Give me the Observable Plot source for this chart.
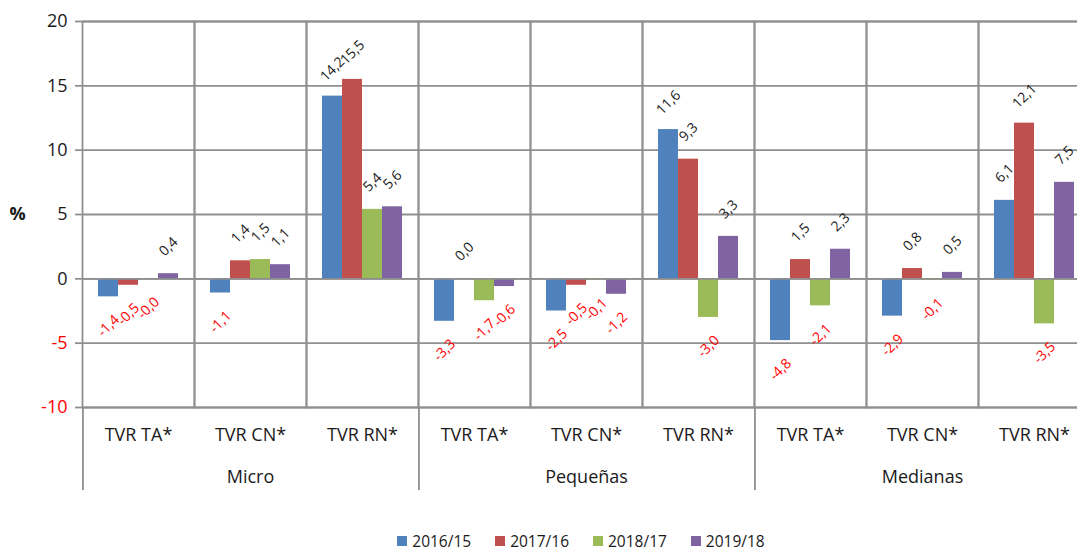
<!DOCTYPE html>
<html>
<head>
<meta charset="utf-8">
<script src="https://cdn.jsdelivr.net/npm/d3@7"></script>
<script src="https://cdn.jsdelivr.net/npm/@observablehq/plot@0.6"></script>
<style>
  html, body { margin: 0; padding: 0; background: #fff; overflow: hidden; }
  #chart { width: 1077px; overflow: hidden; }
  #chart svg { max-width: none !important; display: block; }
  #legend { display: flex; justify-content: center; align-items: center; box-sizing: border-box;
            width: 1090px; padding-left: 72px; height: 20px; margin-top: 11px;
            font-family: "Open Sans", sans-serif; font-size: 15.5px; color: #1a1a1a; }
  .item { display: flex; align-items: center; margin: 0 12px; }
  .sw { width: 10px; height: 10px; margin-right: 5px; }
</style>
</head>
<body>
<div id="chart"></div>
<script>
// ---- data ----
const groups = ["Micro", "Pequeñas", "Medianas"];
const categories = ["TVR TA*", "TVR CN*", "TVR RN*"];
const series = ["2016/15", "2017/16", "2018/17", "2019/18"];
const colors = ["#4F81BD", "#C0504D", "#9BBB59", "#8064A2"];
// values in order: Micro(TA, CN, RN), Pequeñas(TA, CN, RN), Medianas(TA, CN, RN)
const v2016_15 = [-1.4, -1.1, 14.2, -3.3, -2.5, 11.6, -4.8, -2.9, 6.1];
const v2017_16 = [-0.5, 1.4, 15.5, 0.02, -0.5, 9.3, 1.5, 0.8, 12.1];
const v2018_17 = [-0.02, 1.5, 5.4, -1.7, -0.1, -3.0, -2.1, -0.1, -3.5];
const v2019_18 = [0.4, 1.1, 5.6, -0.6, -1.2, 3.3, 2.3, 0.5, 7.5];
const yTicks = [-10, -5, 0, 5, 10, 15, 20];
const yDomain = [-10, 20];

// ---- build table ----
const seriesValues = [v2016_15, v2017_16, v2018_17, v2019_18];
const keyOf = (g, c) => g + "|" + c;
const keys = [];
const catRows = [];
groups.forEach(g => categories.forEach(c => { keys.push(keyOf(g, c)); catRows.push({key: keyOf(g, c), group: g, category: c}); }));
const rows = [];
catRows.forEach((cr, i) => series.forEach((s, j) => rows.push({...cr, series: s, value: seriesValues[j][i]})));
const fmt = v => v.toFixed(1).replace(".", ",");

const W = 1090, H = 520, ML = 82, MR = 0, MT = 21, MB = 113;
const padOuter = 0.76;
const facetW = (W - ML - MR) / keys.length;
const step = facetW / (series.length + 2 * padOuter);
const grid = "#8f8f8f";
const font = "'Open Sans', sans-serif";

const chart = Plot.plot({
  width: W, height: H,
  marginLeft: ML, marginRight: MR, marginTop: MT, marginBottom: MB,
  style: {fontFamily: font, fontSize: "18px", color: "#1a1a1a", background: "#fff"},
  fx: {domain: keys, padding: 0, axis: null},
  x: {domain: series, paddingInner: 0, paddingOuter: padOuter, axis: null},
  y: {domain: yDomain},
  color: {domain: series, range: colors},
  marks: [
    Plot.ruleY(yTicks, {stroke: grid, strokeWidth: 1.8}),
    Plot.frame({stroke: grid, strokeWidth: 1.8}),
    Plot.axisY(yTicks, {tickSize: 7, tickPadding: 8, stroke: grid, strokeWidth: 1.8,
      tickFormat: d => String(d),
      fill: d => d < 0 ? "#ff0000" : "#1a1a1a", fontSize: 18, label: null}),
    Plot.barY(rows, {fx: "key", x: "series", y: "value", fill: "series"}),
    Plot.ruleY([0], {stroke: grid, strokeWidth: 1.8}),
    Plot.text(rows, {filter: d => d.value >= 0, fx: "key", x: "series", y: "value",
      text: d => fmt(d.value), rotate: -45, dy: -27, fontSize: 14, fill: "#1a1a1a"}),
    Plot.text(rows, {filter: d => d.value < 0, fx: "key", x: "series", y: "value",
      text: d => fmt(d.value), rotate: -45, dy: 29, fontSize: 14, fill: "#ff0000"}),
    // category labels
    Plot.text(catRows, {fx: "key", text: "category", frameAnchor: "bottom", lineAnchor: "middle",
      dy: 28, fontSize: 18, fill: "#1a1a1a"}),
    // group labels
    Plot.text(groups, {fx: g => keyOf(g, categories[1]), text: g => g, frameAnchor: "bottom",
      lineAnchor: "middle", dy: 70, fontSize: 18, fill: "#1a1a1a"}),
    // group separators extending into the label area
    Plot.ruleX(groups, {fx: g => keyOf(g, categories[0]), x: () => series[0],
      dx: -(0.5 + padOuter) * step, y1: () => yDomain[0], y2: () => yDomain[0],
      insetBottom: -83, stroke: grid, strokeWidth: 1.8}),
    // axis title
    Plot.text(["%"], {fx: () => keys[0], text: d => d, frameAnchor: "left", textAnchor: "middle",
      dx: -65, fontSize: 18, fontWeight: "bold", fill: "#1a1a1a"})
  ]
});
document.getElementById("chart").appendChild(chart);

const legend = document.createElement("div");
legend.id = "legend";
series.forEach((s, i) => {
  const it = document.createElement("div");
  it.className = "item";
  const sw = document.createElement("div");
  sw.className = "sw";
  sw.style.background = colors[i];
  const t = document.createElement("span");
  t.textContent = s;
  it.appendChild(sw); it.appendChild(t);
  legend.appendChild(it);
});
document.body.appendChild(legend);
</script>
</body>
</html>
